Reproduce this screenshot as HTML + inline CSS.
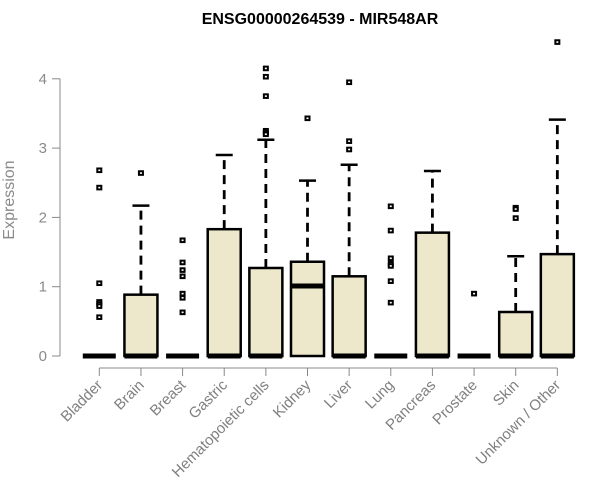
<!DOCTYPE html>
<html><head><meta charset="utf-8"><style>
body{margin:0;background:#fff;}
svg{display:block;font-family:"Liberation Sans",Arial,sans-serif;}
</style></head><body>
<svg id="chart" width="600" height="500">
<text x="320" y="24" text-anchor="middle" font-weight="bold" font-size="16">ENSG00000264539 - MIR548AR</text>
<text transform="translate(14,200) rotate(-90)" text-anchor="middle" font-size="16" fill="#8a8a8a">Expression</text>
<g id="yaxis"></g>
<g id="xaxis"></g>
<g id="boxes"></g>
</svg>
<script>
const categories=["Bladder","Brain","Breast","Gastric","Hematopoietic cells","Kidney","Liver","Lung","Pancreas","Prostate","Skin","Unknown / Other"];
const q1=[0,0,0,0,0,0,0,0,0,0,0,0];
const medians=[0,0,0,0,0,1.01,0,0,0,0,0,0];
const q3=[0,0.885,0,1.83,1.27,1.36,1.15,0,1.78,0,0.635,1.47];
const whiskerHigh=[0,2.17,0,2.9,3.12,2.53,2.76,0,2.67,0,1.44,3.41];
const outliers=[[2.68,2.43,1.05,0.78,0.75,0.72,0.56],[2.64],[1.67,1.35,1.24,1.15,0.9,0.84,0.63],[],[4.15,4.03,3.75,3.25,3.22,3.2],[3.43],[3.95,3.1,2.98],[2.16,1.81,1.41,1.33,1.3,1.08,0.77],[],[0.9],[2.14,2.12,1.99],[4.53]];
const yTicks=[0,1,2,3,4];
const NS="http://www.w3.org/2000/svg";
const y=v=>356-v*69.3;
const x=i=>99.3+i*41.64;
function mk(tag,attrs,parent){const e=document.createElementNS(NS,tag);for(const k in attrs)e.setAttribute(k,attrs[k]);parent.appendChild(e);return e;}
const ya=document.getElementById('yaxis'),xa=document.getElementById('xaxis'),bx=document.getElementById('boxes');
mk('line',{x1:60,x2:60,y1:y(0),y2:y(4),stroke:'#888'},ya);
yTicks.forEach(t=>{
  mk('line',{x1:52,x2:60,y1:y(t),y2:y(t),stroke:'#888'},ya);
  const tx=mk('text',{x:47,y:y(t)+5,'text-anchor':'end','font-size':15,fill:'#8a8a8a'},ya);
  tx.textContent=t;
  
  
});
mk('line',{x1:x(0),x2:x(categories.length-1),y1:368,y2:368,stroke:'#888'},xa);
categories.forEach((c,i)=>{
  mk('line',{x1:x(i),x2:x(i),y1:368,y2:376,stroke:'#888'},xa);
  const t=mk('text',{transform:`translate(${x(i)+4},${386}) rotate(-45)`,'text-anchor':'end','font-size':15,fill:'#808080'},xa);
  t.textContent=c;
  
  
  const g=mk('g',{},bx);
  
  
  const cx=x(i),hw=16.5;
  if(whiskerHigh[i]>q3[i]){
    mk('line',{x1:cx,x2:cx,y1:y(q3[i]),y2:y(whiskerHigh[i]),stroke:'#000','stroke-width':2.8,'stroke-dasharray':'9,6'},g);
    mk('line',{x1:cx-8.5,x2:cx+8.5,y1:y(whiskerHigh[i]),y2:y(whiskerHigh[i]),stroke:'#000','stroke-width':2.5},g);
  }
  if(q3[i]>q1[i]){
    mk('rect',{x:cx-hw,y:y(q3[i]),width:hw*2,height:y(q1[i])-y(q3[i]),fill:'#ede8cc',stroke:'#000','stroke-width':2.5},g);
  }
  mk('line',{x1:cx-hw,x2:cx+hw,y1:y(medians[i]),y2:y(medians[i]),stroke:'#000','stroke-width':5},g);
  outliers[i].forEach(o=>{
    const r=mk('rect',{x:cx-2,y:y(o)-1.8,width:4,height:3.6,fill:'#fff',stroke:'#000','stroke-width':2},g);
    
    
  });
});
</script>
</body></html>
